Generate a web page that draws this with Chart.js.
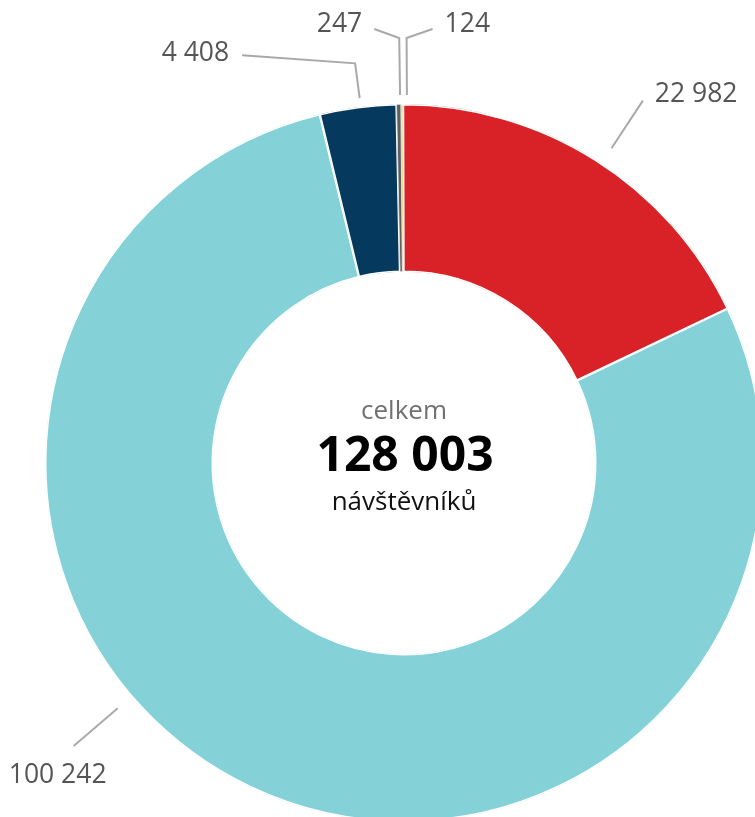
<!DOCTYPE html>
<html><head><meta charset="utf-8">
<script src="https://cdn.jsdelivr.net/npm/chart.js@4/dist/chart.umd.min.js"></script>
<style>html,body{margin:0;padding:0;overflow:hidden;background:#fff}canvas{display:block}</style>
</head><body>
<canvas id="c" width="810" height="870"></canvas>
<script>
// ---- data ----
const categories = ['Skupina A', 'Skupina B', 'Skupina C', 'Skupina D', 'Skupina E'];
const values = [124, 22982, 100242, 4408, 247];
const colors = ['#fbc26a', '#d92128', '#85d1d8', '#053a5e', '#5f5f5f'];
const centerTop = 'celkem';
const centerBottom = 'návštěvníků';

const fmt = v => String(v).replace(/\B(?=(\d{3})+(?!\d))/g, ' ');
const total = values.reduce((a, b) => a + b, 0);

// ---- label layout (positions relative to each arc) ----
const labelLayout = [
  {kind: 'elbow', at: 0.5, r0: 9, r1: 66, sdx: 5, edx: 26, edy: -9, tdx: 12, tdy: -5, align: 'left'},
  {kind: 'straight', at: 0.519, r0: 18, r1: 75, tdx: 12, tdy: -6, align: 'left'},
  {kind: 'straight', at: 0.585, r0: 18, r1: 76, tdx: -16, tdy: 29, align: 'center'},
  {kind: 'elbow', at: 0.5, r0: 9, r1: 44, sdx: 3, edx: -113, edy: -8, tdx: -13, tdy: -2, align: 'right'},
  {kind: 'elbow', at: 0.5, r0: 9, r1: 66, sdx: 1.5, edx: -25, edy: -9, tdx: -12, tdy: -5, align: 'right'}
];

const leaderPlugin = {
  id: 'leaders',
  afterDatasetsDraw(chart) {
    const ctx = chart.ctx;
    const meta = chart.getDatasetMeta(0);
    ctx.save();
    meta.data.forEach((arc, i) => {
      const p = arc.getProps(['x', 'y', 'startAngle', 'endAngle', 'outerRadius'], true);
      const L = labelLayout[i];
      const a = p.startAngle + (p.endAngle - p.startAngle) * L.at;
      const pt = r => ({x: p.x + Math.cos(a) * r, y: p.y + Math.sin(a) * r});
      let pts;
      if (L.kind === 'straight') {
        pts = [pt(p.outerRadius + L.r0), pt(p.outerRadius + L.r1)];
      } else {
        const s = pt(p.outerRadius + L.r0); s.x += L.sdx;
        const e = pt(p.outerRadius + L.r1); e.x += L.sdx;
        const f = {x: e.x + L.edx, y: e.y + L.edy};
        pts = [s, e, f];
      }
      ctx.strokeStyle = '#a9a9a9';
      ctx.lineWidth = 2;
      ctx.lineJoin = 'miter';
      ctx.beginPath();
      pts.forEach((q, k) => k ? ctx.lineTo(q.x, q.y) : ctx.moveTo(q.x, q.y));
      ctx.stroke();
      const last = pts[pts.length - 1];
      ctx.fillStyle = '#555555';
      ctx.font = '26.5px "Open Sans"';
      ctx.textAlign = L.align;
      ctx.textBaseline = 'middle';
      ctx.fillText(fmt(values[i]), last.x + L.tdx, last.y + L.tdy);
    });
    // center text
    const a0 = meta.data[0];
    const cx = a0.x, cy = a0.y;
    ctx.textAlign = 'center';
    ctx.textBaseline = 'middle';
    ctx.fillStyle = '#717171';
    ctx.font = '26px "Open Sans"';
    ctx.fillText(centerTop, cx, cy - 51);
    ctx.fillStyle = '#000000';
    ctx.font = 'bold 48px "Open Sans"';
    ctx.fillText(fmt(total), cx + 1, cy - 6);
    ctx.fillStyle = '#111111';
    ctx.font = '26px "Open Sans"';
    ctx.fillText(centerBottom, cx, cy + 40);
    ctx.restore();
  }
};

new Chart(document.getElementById('c'), {
  type: 'doughnut',
  data: {
    labels: categories,
    datasets: [{
      data: values,
      backgroundColor: colors,
      borderColor: '#ffffff',
      borderAlign: 'inner',
      borderWidth: [0.4, 1.2, 1.2, 1.2, 0.4]
    }]
  },
  options: {
    responsive: false,
    animation: false,
    rotation: -0.5,
    cutout: '53.2%',
    layout: {padding: {left: 45, top: 104, right: 47, bottom: 48}},
    plugins: {legend: {display: false}, tooltip: {enabled: false}}
  },
  plugins: [leaderPlugin]
});
</script>
</body></html>
